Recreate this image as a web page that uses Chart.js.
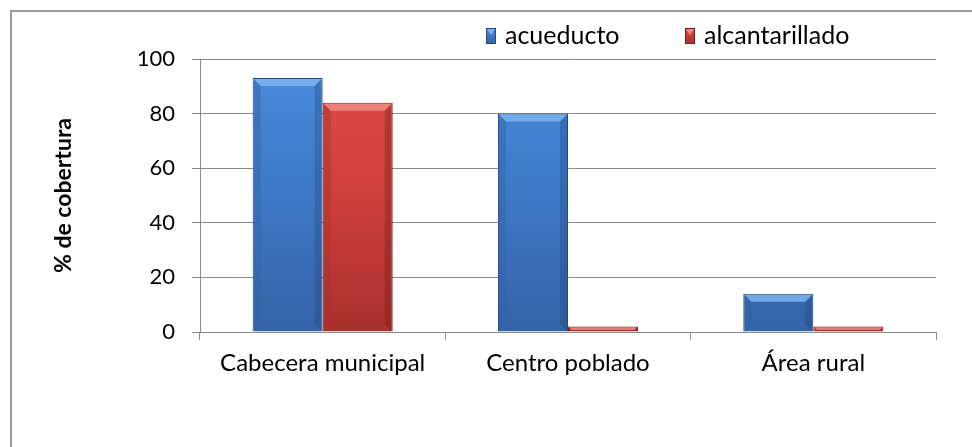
<!DOCTYPE html>
<html>
<head>
<meta charset="utf-8">
<script src="https://cdn.jsdelivr.net/npm/chart.js@4.4.1/dist/chart.umd.min.js"></script>
<style>
  html, body { margin: 0; padding: 0; background: #ffffff; }
  #wrap { width: 972px; height: 447px; position: relative; }
</style>
</head>
<body>
<div id="wrap"><canvas id="c" width="972" height="447"></canvas></div>
<script>
const categories = ["Cabecera municipal", "Centro poblado", "Área rural"];
const acueducto = [93, 80, 14];
const alcantarillado = [84, 2, 2];
const seriesNames = ["acueducto", "alcantarillado"];
const yTicks = [0, 20, 40, 60, 80, 100];
const yTitle = "% de cobertura";

const FONT = "Lato, 'Liberation Sans', sans-serif";
const GRID = "#8c8c8c";

const palette = [
  { top: "#4A8BDB", mid: "#3E78C6", bot: "#3463A6", edge: "#22497F", hi: "#7DB3F0" },
  { top: "#E04B47", mid: "#CF3F3C", bot: "#A8302D", edge: "#6E1E1C", hi: "#F08A86" }
];

function vGrad(ctx, area, p) {
  const g = ctx.createLinearGradient(0, area.top, 0, area.bottom);
  g.addColorStop(0, p.top);
  g.addColorStop(0.5, p.mid);
  g.addColorStop(1, p.bot);
  return g;
}

const bevelPlugin = {
  id: "bevel",
  afterDatasetsDraw(chart) {
    const ctx = chart.ctx;
    chart.data.datasets.forEach((ds, di) => {
      const p = palette[di];
      chart.getDatasetMeta(di).data.forEach(bar => {
        const l = bar.x - bar.width / 2, r = bar.x + bar.width / 2;
        const t = bar.y, b = bar.base;
        const h = b - t;
        const bv = Math.min(7, h / 2);
        if (h < 2) return;
        ctx.save();
        ctx.beginPath();
        ctx.moveTo(l + 1, t + 1); ctx.lineTo(r - 1, t + 1);
        ctx.lineTo(r - 1 - bv, t + 1 + bv); ctx.lineTo(l + 1 + bv, t + 1 + bv);
        ctx.closePath();
        ctx.fillStyle = p.hi; ctx.globalAlpha = 0.85; ctx.fill();
        ctx.beginPath();
        ctx.moveTo(l + 1, t + 1); ctx.lineTo(l + 1 + bv, t + 1 + bv);
        ctx.lineTo(l + 1 + bv, b - bv); ctx.lineTo(l + 1, b);
        ctx.closePath();
        ctx.fillStyle = p.bot; ctx.globalAlpha = 0.45; ctx.fill();
        ctx.beginPath();
        ctx.moveTo(r - 1, t + 1); ctx.lineTo(r - 1 - bv, t + 1 + bv);
        ctx.lineTo(r - 1 - bv, b - bv); ctx.lineTo(r - 1, b);
        ctx.closePath();
        ctx.fillStyle = p.edge; ctx.globalAlpha = 0.35; ctx.fill();
        ctx.restore();
      });
    });
  }
};

const frameLegendPlugin = {
  id: "frameLegend",
  beforeDraw(chart) {
    const ctx = chart.ctx;
    ctx.save();
    ctx.fillStyle = "#ffffff";
    ctx.fillRect(0, 0, chart.width, chart.height);
    ctx.strokeStyle = "#9a9a9a";
    ctx.lineWidth = 2;
    ctx.beginPath();
    ctx.moveTo(11, chart.height + 5);
    ctx.lineTo(11, 11);
    ctx.lineTo(chart.width + 5, 11);
    ctx.stroke();
    ctx.restore();
  },
  afterDraw(chart) {
    const ctx = chart.ctx;
    const starts = [486, 685];
    ctx.save();
    ctx.font = "25px " + FONT;
    ctx.textBaseline = "middle";
    chart.data.datasets.forEach((ds, i) => {
      const p = palette[i];
      const x = starts[i], y = 36;
      const g = ctx.createLinearGradient(0, y - 8, 0, y + 8);
      g.addColorStop(0, p.top); g.addColorStop(1, p.bot);
      ctx.fillStyle = g;
      ctx.fillRect(x, y - 8, 10, 16);
      ctx.fillStyle = p.hi;
      ctx.beginPath();
      ctx.moveTo(x + 1, y - 7); ctx.lineTo(x + 9, y - 7); ctx.lineTo(x + 5, y - 1); ctx.closePath();
      ctx.fill();
      ctx.strokeStyle = p.edge; ctx.lineWidth = 1;
      ctx.strokeRect(x + 0.5, y - 7.5, 9, 15);
      ctx.fillStyle = "#000000";
      ctx.fillText(ds.label, x + 19, y);
    });
    ctx.restore();
  }
};

const ctx = document.getElementById("c").getContext("2d");
new Chart(ctx, {
  type: "bar",
  data: {
    labels: categories,
    datasets: [
      {
        label: seriesNames[0],
        data: acueducto,
        backgroundColor: (c) => c.chart.chartArea ? vGrad(c.chart.ctx, c.chart.chartArea, palette[0]) : palette[0].mid,
        borderColor: palette[0].edge,
        borderWidth: 1,
        categoryPercentage: 0.571,
        barPercentage: 1.0
      },
      {
        label: seriesNames[1],
        data: alcantarillado,
        backgroundColor: (c) => c.chart.chartArea ? vGrad(c.chart.ctx, c.chart.chartArea, palette[1]) : palette[1].mid,
        borderColor: palette[1].edge,
        borderWidth: 1,
        categoryPercentage: 0.571,
        barPercentage: 1.0
      }
    ]
  },
  options: {
    responsive: false,
    animation: false,
    devicePixelRatio: 1,
    layout: { padding: { left: 0, right: 36, top: 59, bottom: 0 } },
    plugins: {
      legend: { display: false },
      tooltip: { enabled: false }
    },
    scales: {
      x: {
        offset: true,
        grid: { display: true, offset: true, drawOnChartArea: false, color: GRID, tickLength: 8, lineWidth: 1 },
        border: { display: true, color: GRID, width: 1 },
        ticks: { color: "#000000", font: { family: FONT, size: 24 }, padding: 9, maxRotation: 0 },
        afterFit(scale) { scale.height = 115; }
      },
      y: {
        min: 0,
        max: 100,
        afterBuildTicks(scale) { scale.ticks = yTicks.map(v => ({ value: v })); },
        grid: { display: true, color: GRID, tickLength: 8, lineWidth: 1 },
        border: { display: true, color: GRID, width: 1 },
        ticks: { color: "#000000", font: { family: FONT, size: 22 }, padding: 17 },
        title: {
          display: true,
          text: yTitle,
          color: "#000000",
          font: { family: FONT, size: 23, weight: "bold" },
          padding: { top: 50, bottom: 0 }
        },
        afterFit(scale) { scale.width = 200; }
      }
    }
  },
  plugins: [frameLegendPlugin, bevelPlugin]
});
</script>
</body>
</html>
